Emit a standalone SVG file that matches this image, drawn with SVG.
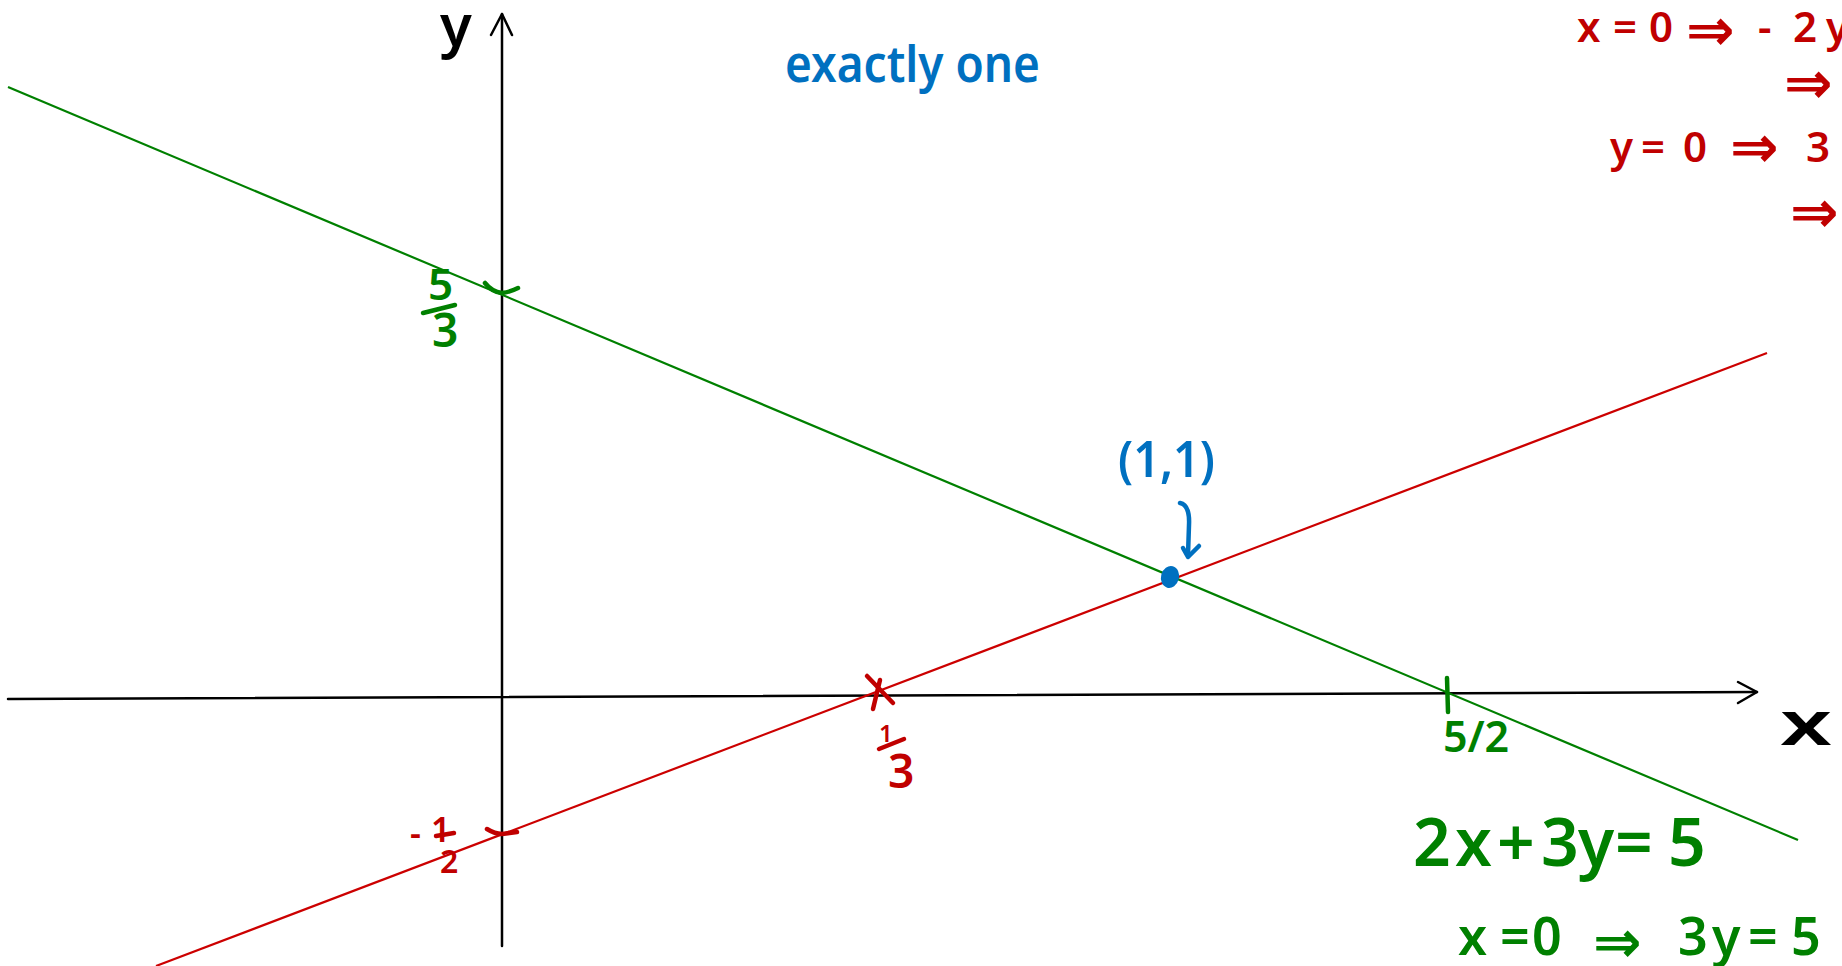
<svg xmlns="http://www.w3.org/2000/svg" width="1842" height="966" viewBox="0 0 1842 966">
<defs>
<style>
.t{font-family:"Noto Sans","DejaVu Sans",sans-serif;font-weight:600}
.ar{font-family:"DejaVu Sans",sans-serif;font-weight:600;font-size:58px}
.red{fill:#c00000}
.grn{fill:#008000}
.blu{fill:#0070c0}
.blk{fill:#000}
.ax{stroke:#000;stroke-width:2.5;fill:none;stroke-linecap:round;stroke-linejoin:round}
.lr{stroke:#cc0000;stroke-width:2.2;fill:none}
.lg{stroke:#008000;stroke-width:2.2;fill:none}
.mr{stroke:#c00000;stroke-width:4.5;fill:none;stroke-linecap:round;stroke-linejoin:round}
.mg{stroke:#008000;stroke-width:4.5;fill:none;stroke-linecap:round;stroke-linejoin:round}
.mb{stroke:#0070c0;stroke-width:4.5;fill:none;stroke-linecap:round;stroke-linejoin:round}
</style>
</defs>
<rect width="1842" height="966" fill="#fff"/>

<g id="connectors">
  <g id="axes">
    <path class="ax" d="M502,946 L502,14"/>
    <path class="ax" d="M491,35 L502,14 L512,35"/>
    <path class="ax" d="M8,699 L1757,692"/>
    <path class="ax" d="M1738,682 L1757,692 L1738,703"/>
  </g>
  <path id="green-line" class="lg" d="M8,87 L1798,840"/>
  <path id="red-line" class="lr" d="M156,966 L1767,353"/>
</g>

<g id="axis-label-y">
  <text class="t blk" x="440" y="46" font-size="58" font-weight="500">y</text>
</g>
<g id="axis-label-x">
  <text class="t blk" x="1780" y="745" font-size="62" font-weight="500" textLength="52" lengthAdjust="spacingAndGlyphs">x</text>
</g>

<g id="label-exactly-one">
  <text class="t blu" x="785" y="82" font-size="50" font-weight="500" textLength="255" lengthAdjust="spacingAndGlyphs">exactly one</text>
</g>

<g id="tick-five-thirds">
  <path class="mg" d="M485,283 Q492,292 502,293 Q510,292 518,288"/>
  <text class="t grn" x="428" y="300" font-size="44">5</text>
  <path class="mg" d="M423,313 L455,305"/>
  <text class="t grn" x="432" y="347" font-size="46">3</text>
</g>

<g id="tick-minus-half">
  <path class="mr" d="M487,829 Q495,834 502,834 L517,832"/>
  <text class="t red" x="410" y="845" font-size="34">-</text>
  <text class="t red" x="431" y="842" font-size="34">1</text>
  <path class="mr" d="M436,836 L454,833"/>
  <text class="t red" x="440" y="873" font-size="32">2</text>
</g>

<g id="tick-one-third">
  <path class="mr" d="M867,676 L893,703"/>
  <path class="mr" d="M880,680 L873,709"/>
  <text class="t red" x="879" y="742" font-size="24">1</text>
  <path class="mr" d="M879,749 L904,739"/>
  <text class="t red" x="888" y="788" font-size="46">3</text>
</g>

<g id="tick-five-halves">
  <path class="mg" d="M1447,678 L1448,712"/>
  <text class="t grn" x="1443" y="752" font-size="43" textLength="66">5/2</text>
</g>

<g id="intersection">
  <ellipse cx="1170" cy="577" rx="9" ry="11" transform="rotate(15 1170 577)" fill="#0070c0"/>
  <path class="mb" d="M1180,503 Q1190,505 1189,525 L1188,555"/>
  <path class="mb" d="M1183,548 L1188,557 L1199,546"/>
  <text class="t blu" x="1118" y="477" font-size="50" font-weight="500" textLength="97" lengthAdjust="spacingAndGlyphs">(1,1)</text>
</g>

<g id="red-notes">
  <text class="t red" y="42" font-size="42"><tspan x="1577">x</tspan><tspan x="1613">=</tspan><tspan x="1649">0</tspan><tspan x="1758">-</tspan><tspan x="1793">2</tspan><tspan x="1826">y</tspan></text>
  <text class="ar red" x="1686" y="50">⇒</text>
  <text class="ar red" x="1784" y="103">⇒</text>
  <text class="t red" y="162" font-size="42"><tspan x="1610">y</tspan><tspan x="1641">=</tspan><tspan x="1683">0</tspan><tspan x="1806">3</tspan></text>
  <text class="ar red" x="1730" y="167">⇒</text>
  <text class="ar red" x="1790" y="232">⇒</text>
</g>

<g id="green-notes">
  <text class="t grn" y="866" font-size="66"><tspan x="1413">2</tspan><tspan x="1455">x</tspan><tspan x="1497">+</tspan><tspan x="1541">3</tspan><tspan x="1578">y</tspan><tspan x="1615">=</tspan><tspan x="1668">5</tspan></text>
  <text class="t grn" y="955" font-size="52"><tspan x="1458">x</tspan><tspan x="1500">=</tspan><tspan x="1532">0</tspan><tspan x="1678">3</tspan><tspan x="1712">y</tspan><tspan x="1748">=</tspan><tspan x="1791">5</tspan></text>
  <text class="ar grn" x="1593" y="962">⇒</text>
</g>
</svg>
